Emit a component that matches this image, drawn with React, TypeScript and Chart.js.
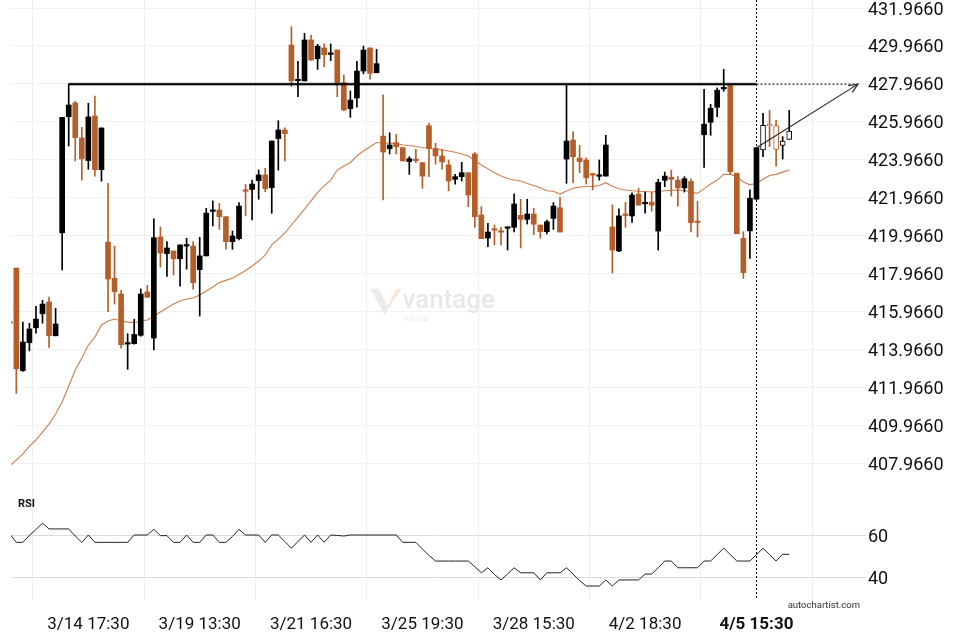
import React, { useEffect, useRef } from 'react';
import { Chart, registerables } from 'chart.js';

Chart.register(...registerables);

// ---------- data ----------
const FIRST_INDEX = -1; // first (partly hidden) candle index
const xTickIndex = [11, 28, 45, 62, 79, 96, 113];
const xTickLabels = ['3/14 17:30', '3/19 13:30', '3/21 16:30', '3/25 19:30', '3/28 15:30', '4/2 18:30', '4/5 15:30'];
const boldTickIndex = 113;
const priceTicks = [407.966, 409.966, 411.966, 413.966, 415.966, 417.966, 419.966, 421.966, 423.966, 425.966, 427.966, 429.966, 431.966];
const rsiTicks = [40, 60];

const opens = [
  415.36, 418.25, 412.84, 414.31, 415.10, 415.84, 416.46, 414.68, 420.11, 426.23,
  426.96, 425.11, 423.92, 426.27, 423.44, 419.62, 417.71, 416.88, 414.24, 414.26,
  414.70, 416.99, 414.56, 419.89, 419.01, 419.15, 418.74, 419.41, 419.41, 418.17,
  418.89, 421.24, 421.31, 420.96, 419.64, 419.80, 422.37, 422.40, 422.86, 423.16,
  422.49, 425.08, 425.53, 430.01, 428.13, 428.12, 430.28, 429.29, 429.86, 429.52,
  429.75, 428.03, 426.66, 427.22, 428.64, 429.86, 428.55, 425.21, 424.55, 424.86,
  424.60, 423.86, 424.00, 423.81, 425.76, 424.55, 424.16, 423.69, 422.93, 423.07,
  423.28, 424.27, 421.05, 419.83, 420.27, 420.16, 420.35, 420.40, 421.03, 420.82,
  421.10, 420.52, 420.17, 420.87, 421.43, 424.00, 425.00, 424.05, 423.95, 423.17,
  423.09, 423.10, 420.42, 419.15, 421.04, 421.00, 422.15, 421.64, 421.73, 420.20,
  422.88, 423.04, 422.88, 422.48, 422.82, 420.67, 425.28, 425.94, 426.73, 427.70,
  427.92, 423.25, 419.82, 420.21, 421.88, 424.48, 425.77, 425.76, 424.72, 425.04,
];
const highs = [
  415.40, 418.25, 415.40, 415.34, 416.23, 416.55, 416.72, 416.13, 426.20, 427.96,
  427.05, 425.67, 426.94, 427.32, 425.64, 422.72, 419.41, 417.08, 414.79, 415.55,
  417.15, 417.34, 420.84, 420.42, 419.64, 419.15, 419.47, 419.82, 419.64, 419.87,
  421.40, 421.79, 421.66, 420.96, 420.20, 421.70, 422.66, 422.89, 423.42, 423.51,
  424.95, 426.02, 425.65, 430.98, 429.15, 430.63, 430.54, 430.05, 430.07, 430.07,
  429.75, 428.43, 427.59, 429.15, 429.96, 429.86, 429.79, 427.38, 425.39, 425.30,
  424.60, 424.12, 424.51, 423.81, 425.89, 424.83, 424.51, 423.95, 423.19, 423.83,
  423.28, 424.34, 421.49, 420.61, 420.52, 420.40, 420.40, 422.16, 421.88, 421.88,
  421.40, 420.52, 420.78, 421.70, 421.98, 427.90, 425.44, 424.72, 424.07, 423.25,
  423.95, 425.25, 421.59, 421.38, 421.72, 422.22, 422.46, 422.26, 422.26, 422.94,
  423.31, 423.42, 423.07, 423.07, 422.96, 421.77, 427.68, 426.89, 427.75, 428.73,
  427.96, 423.25, 420.17, 422.37, 424.60, 426.41, 426.57, 426.04, 425.18, 426.57,
];
const lows = [
  415.30, 411.64, 412.80, 413.88, 414.81, 415.34, 414.07, 414.67, 418.15, 424.69,
  423.90, 422.89, 423.46, 423.09, 422.83, 415.95, 416.35, 414.02, 412.91, 414.24,
  414.65, 416.71, 413.93, 418.30, 417.81, 417.88, 417.30, 418.19, 417.14, 415.72,
  418.89, 420.47, 420.29, 419.24, 419.24, 419.73, 421.00, 420.79, 421.88, 422.28,
  421.14, 423.42, 423.90, 427.82, 427.29, 428.12, 429.22, 428.73, 428.87, 429.19,
  427.29, 426.55, 426.20, 426.73, 428.49, 428.21, 428.55, 421.84, 424.27, 424.27,
  423.90, 423.19, 423.81, 422.46, 423.07, 423.73, 423.46, 422.32, 422.67, 422.84,
  421.49, 420.40, 419.80, 419.38, 419.47, 419.47, 419.20, 420.15, 419.31, 420.57,
  420.01, 419.82, 420.05, 420.29, 420.15, 422.72, 422.75, 423.28, 422.68, 422.37,
  422.89, 423.10, 417.99, 419.11, 420.40, 420.66, 421.57, 421.14, 421.24, 419.20,
  422.54, 422.05, 421.52, 422.26, 420.15, 419.89, 423.56, 425.25, 426.23, 427.57,
  423.19, 420.06, 417.71, 418.76, 421.88, 424.12, 424.65, 423.63, 424.00, 425.04,
];
const closes = [
  415.34, 412.94, 414.35, 415.04, 415.56, 416.35, 414.68, 415.30, 426.20, 426.85,
  425.13, 424.01, 426.22, 423.44, 425.64, 417.67, 417.00, 414.21, 414.30, 414.75,
  416.88, 416.71, 419.85, 419.04, 419.31, 418.74, 419.47, 419.45, 417.48, 418.89,
  421.15, 421.31, 420.96, 419.64, 419.94, 421.52, 422.30, 422.68, 423.16, 422.44,
  424.95, 425.53, 425.34, 428.12, 428.15, 430.28, 429.22, 429.95, 429.50, 429.54,
  428.03, 426.59, 427.11, 428.64, 429.75, 428.52, 429.03, 424.37, 424.74, 424.65,
  423.90, 424.02, 423.91, 423.10, 424.55, 424.16, 423.85, 422.84, 423.07, 423.28,
  422.10, 420.96, 419.80, 420.15, 420.25, 420.14, 420.37, 421.63, 420.82, 421.10,
  420.56, 420.17, 420.69, 421.52, 420.15, 424.95, 424.12, 423.86, 423.01, 423.15,
  423.11, 424.74, 419.20, 421.00, 421.02, 422.10, 421.57, 421.66, 421.57, 422.77,
  423.10, 422.93, 422.48, 422.96, 420.64, 420.65, 425.84, 426.68, 427.63, 427.72,
  423.33, 420.06, 418.01, 421.93, 424.60, 425.78, 425.75, 424.51, 424.95, 425.48,
];
const movingAverage = [
  407.81, 408.13, 408.44, 408.86, 409.18, 409.60, 410.03, 410.55, 411.19, 412.03,
  412.87, 413.51, 414.19, 414.61, 415.25, 415.46, 415.56, 415.46, 415.40, 415.37,
  415.46, 415.51, 415.72, 415.93, 416.14, 416.35, 416.51, 416.62, 416.67, 416.83,
  417.04, 417.25, 417.49, 417.60, 417.73, 417.91, 418.12, 418.36, 418.62, 418.94,
  419.47, 419.78, 420.10, 420.52, 420.94, 421.36, 421.79, 422.24, 422.58, 422.89,
  423.42, 423.63, 423.82, 424.16, 424.42, 424.65, 424.87, 424.83, 424.84, 424.82,
  424.74, 424.71, 424.66, 424.61, 424.57, 424.53, 424.48, 424.42, 424.36, 424.27,
  424.16, 423.92, 423.69, 423.48, 423.28, 423.10, 422.97, 422.89, 422.84, 422.71,
  422.60, 422.49, 422.33, 422.30, 422.15, 422.32, 422.46, 422.52, 422.55, 422.56,
  422.60, 422.75, 422.56, 422.43, 422.37, 422.33, 422.30, 422.29, 422.26, 422.30,
  422.33, 422.35, 422.37, 422.34, 422.26, 422.19, 422.44, 422.68, 422.89, 423.19,
  423.19, 423.07, 422.79, 422.64, 422.72, 422.93, 423.13, 423.19, 423.31, 423.42,
];
const rsiValues = [
  60.5, 56.5, 56.5, 59.8, 62.6, 65.6, 62.9, 62.9, 62.9, 62.9,
  59.5, 56.5, 60.0, 56.5, 56.5, 56.5, 56.5, 56.5, 56.5, 60.0,
  60.0, 60.0, 62.7, 59.7, 59.7, 56.5, 56.5, 60.0, 56.5, 56.5,
  60.0, 60.0, 56.5, 56.5, 59.3, 62.7, 60.0, 60.0, 60.0, 56.5,
  60.0, 60.0, 56.9, 53.7, 56.9, 60.0, 56.5, 60.0, 56.5, 60.0,
  59.8, 59.5, 60.0, 60.0, 60.0, 60.0, 60.0, 60.0, 60.0, 60.0,
  56.5, 56.5, 56.5, 53.3, 50.3, 47.6, 47.6, 47.6, 47.6, 47.6,
  47.6, 44.9, 42.0, 44.4, 41.2, 38.6, 41.4, 44.4, 42.0, 42.0,
  42.0, 38.6, 42.0, 42.0, 42.0, 44.4, 41.4, 38.3, 35.7, 35.7,
  35.7, 38.6, 35.7, 38.6, 38.6, 38.6, 38.6, 41.4, 41.4, 44.4,
  47.6, 47.6, 44.4, 44.4, 44.4, 44.4, 47.6, 47.6, 50.7, 53.7,
  50.7, 47.6, 47.6, 47.6, 50.7, 53.7, 50.7, 47.6, 50.8, 50.8,
];
const HOLLOW_FROM_INDEX = 114; // candles after the marker are drawn hollow

// breakout level annotation
const levelPrice = 427.95;
const levelStartIndex = 8;
const levelEndIndex = 113;
const arrowStart = { x: 113, y: 424.6 };
const arrowEnd = { x: 128.5, y: 427.95 };

// ---------- style ----------
const UP_COLOR = '#000000';
const DOWN_COLOR = '#b65e29';
const MA_COLOR = 'rgba(196, 104, 50, 0.85)';
const FONT = "Roboto, 'Liberation Sans', Arial, sans-serif";

const overlayPlugin = {
  id: 'overlay',
  beforeDatasetsDraw(chart: any) {
    const { ctx, chartArea } = chart;
    const y = chart.scales.y;
    const cx = (chartArea.left + chartArea.right) / 2 - 2;
    const cy = y.top + (y.bottom - y.top) * 0.616;
    ctx.save();
    // logo mark
    ctx.fillStyle = '#ebebeb';
    ctx.beginPath();
    ctx.moveTo(cx - 62, cy - 13);
    ctx.lineTo(cx - 54, cy - 13);
    ctx.lineTo(cx - 45, cy + 4);
    ctx.lineTo(cx - 48, cy + 13);
    ctx.closePath();
    ctx.fill();
    ctx.fillStyle = '#f8e6da';
    ctx.beginPath();
    ctx.moveTo(cx - 45, cy + 4);
    ctx.lineTo(cx - 36, cy - 13);
    ctx.lineTo(cx - 31, cy - 13);
    ctx.lineTo(cx - 48, cy + 13);
    ctx.closePath();
    ctx.fill();
    ctx.fillStyle = '#e8e8e8';
    ctx.font = `500 26px ${FONT}`;
    ctx.textBaseline = 'alphabetic';
    ctx.textAlign = 'left';
    ctx.fillText('vantage', cx - 30, cy + 6);
    ctx.fillStyle = '#f5e2d5';
    ctx.font = `italic 8px ${FONT}`;
    ctx.fillText('P L U S', cx - 29, cy + 19);
    ctx.restore();
  },
  afterDatasetsDraw(chart: any) {
    const { ctx, chartArea } = chart;
    const x = chart.scales.x;
    const y = chart.scales.y;
    const ly = y.getPixelForValue(levelPrice);
    const lx0 = x.getPixelForValue(levelStartIndex);
    const lx1 = x.getPixelForValue(levelEndIndex);
    ctx.save();
    ctx.beginPath();
    ctx.moveTo(lx0, ly);
    ctx.lineTo(lx1, ly);
    ctx.strokeStyle = 'rgba(0,0,0,0.3)';
    ctx.lineWidth = 3.5;
    ctx.stroke();
    ctx.strokeStyle = '#000';
    ctx.lineWidth = 1.6;
    ctx.stroke();
    // dashed continuation
    ctx.setLineDash([2, 2]);
    ctx.lineWidth = 1;
    ctx.beginPath();
    ctx.moveTo(lx1, ly);
    ctx.lineTo(chartArea.right, ly);
    ctx.stroke();
    // vertical marker
    ctx.beginPath();
    ctx.moveTo(Math.round(lx1) + 0.5, chartArea.top);
    ctx.lineTo(Math.round(lx1) + 0.5, chartArea.bottom);
    ctx.stroke();
    ctx.setLineDash([]);
    // arrow
    const ax0 = x.getPixelForValue(arrowStart.x);
    const ay0 = y.getPixelForValue(arrowStart.y);
    const ax1 = x.getPixelForValue(arrowEnd.x);
    const ay1 = y.getPixelForValue(arrowEnd.y);
    ctx.strokeStyle = '#222';
    ctx.lineWidth = 1.1;
    ctx.beginPath();
    ctx.moveTo(ax0, ay0);
    ctx.lineTo(ax1, ay1);
    ctx.stroke();
    const ang = Math.atan2(ay1 - ay0, ax1 - ax0);
    const head = 10;
    ctx.beginPath();
    ctx.moveTo(ax1 - head * Math.cos(ang - 0.4), ay1 - head * Math.sin(ang - 0.4));
    ctx.lineTo(ax1, ay1);
    ctx.lineTo(ax1 - head * Math.cos(ang + 0.4), ay1 - head * Math.sin(ang + 0.4));
    ctx.stroke();
    ctx.restore();
  },
  afterDraw(chart: any) {
    const { ctx, chartArea } = chart;
    const yR = chart.scales.yR;
    ctx.save();
    ctx.fillStyle = '#111';
    ctx.font = `bold 11px ${FONT}`;
    ctx.textAlign = 'left';
    ctx.textBaseline = 'middle';
    ctx.fillText('RSI', chartArea.left + 7, yR.top + 14);
    ctx.fillStyle = '#333';
    ctx.font = `9.5px ${FONT}`;
    ctx.textAlign = 'right';
    ctx.fillText('autochartist.com', chartArea.right + 2, chartArea.bottom + 6);
    ctx.restore();
  },
};

export default function App() {
  const canvasRef = useRef<HTMLCanvasElement>(null);

  useEffect(() => {
    const canvas = canvasRef.current;
    if (!canvas) return;
    Chart.defaults.font.family = FONT;
    const idx = opens.map((_, k) => k + FIRST_INDEX);
    const colors = opens.map((o, k) => (closes[k] >= o ? UP_COLOR : DOWN_COLOR));
    const hollow = idx.map((i) => i >= HOLLOW_FROM_INDEX);

    const chart = new Chart(canvas, {
      type: 'bar',
      data: {
        datasets: [
          {
            type: 'line',
            label: 'MA',
            data: idx.map((i, k) => ({ x: i, y: movingAverage[k] })),
            yAxisID: 'y',
            borderColor: MA_COLOR,
            borderWidth: 1.1,
            pointRadius: 0,
            order: 4,
          } as any,
          {
            type: 'bar',
            label: 'wick',
            data: idx.map((i, k) => ({ x: i, y: [lows[k], highs[k]] })),
            yAxisID: 'y',
            backgroundColor: colors,
            barThickness: 1,
            grouped: false,
            order: 3,
          } as any,
          {
            type: 'bar',
            label: 'body',
            data: idx.map((i, k) => ({ x: i, y: [opens[k], closes[k]] })),
            yAxisID: 'y',
            backgroundColor: hollow.map((h, k) => (h ? '#ffffff' : colors[k])),
            borderColor: colors,
            borderWidth: hollow.map((h) => (h ? 1 : 0)),
            borderSkipped: false,
            barThickness: 5,
            minBarLength: 1.5,
            grouped: false,
            order: 2,
          } as any,
          {
            type: 'line',
            label: 'RSI',
            data: idx.map((i, k) => ({ x: i, y: rsiValues[k] })),
            yAxisID: 'yR',
            borderColor: '#222',
            borderWidth: 1,
            pointRadius: 0,
            order: 1,
          } as any,
        ],
      },
      options: {
        animation: false,
        responsive: false,
        maintainAspectRatio: false,
        layout: { padding: { left: 11, right: 0, top: 0, bottom: 0 } },
        plugins: { legend: { display: false }, tooltip: { enabled: false } },
        scales: {
          x: {
            type: 'linear',
            min: -0.81,
            max: 128.5,
            offset: false,
            afterBuildTicks: (s: any) => {
              s.ticks = xTickIndex.map((v) => ({ value: v }));
            },
            afterFit: (s: any) => {
              s.height = 40;
              s.paddingLeft = 0;
              s.paddingRight = 0;
            },
            ticks: {
              autoSkip: false,
              maxRotation: 0,
              padding: 15,
              color: '#111',
              font: (c: any) => ({ size: 17, weight: c.tick && c.tick.value === boldTickIndex ? 'bold' : 'normal' }),
              callback: (v: any) => {
                const k = xTickIndex.indexOf(Number(v));
                return k >= 0 ? xTickLabels[k] : '';
              },
            },
            grid: { color: '#efefef', drawTicks: false },
            border: { display: false },
          },
          y: {
            type: 'linear',
            position: 'right',
            stack: 'panes',
            stackWeight: 490,
            min: 406.544,
            max: 432.388,
            afterBuildTicks: (s: any) => {
              s.ticks = priceTicks.map((v) => ({ value: v }));
            },
            afterFit: (s: any) => {
              s.width = 102;
              s.paddingTop = 0;
              s.paddingBottom = 0;
            },
            ticks: {
              autoSkip: false,
              padding: 2,
              labelOffset: 2,
              color: '#111',
              font: { size: 18 },
              callback: (v: any) => Number(v).toFixed(4),
            },
            grid: { color: '#f1f1f1', tickLength: 8 },
            border: { display: false },
          },
          yR: {
            type: 'linear',
            position: 'right',
            stack: 'panes',
            stackWeight: 110,
            min: 29.05,
            max: 81.43,
            afterBuildTicks: (s: any) => {
              s.ticks = rsiTicks.map((v) => ({ value: v }));
            },
            afterFit: (s: any) => {
              s.width = 102;
              s.paddingTop = 0;
              s.paddingBottom = 0;
            },
            ticks: {
              autoSkip: false,
              padding: 2,
              labelOffset: 2,
              color: '#111',
              font: { size: 18 },
              callback: (v: any) => String(v),
            },
            grid: { color: '#dcdcdc', tickLength: 8 },
            border: { display: false },
          },
        } as any,
      },
      plugins: [overlayPlugin],
    });
    return () => chart.destroy();
  }, []);

  return (
    <div style={{ position: 'fixed', left: 0, top: 0, width: 960, height: 640, background: '#ffffff' }}>
      <canvas ref={canvasRef} width={960} height={640} style={{ display: 'block' }} />
    </div>
  );
}
